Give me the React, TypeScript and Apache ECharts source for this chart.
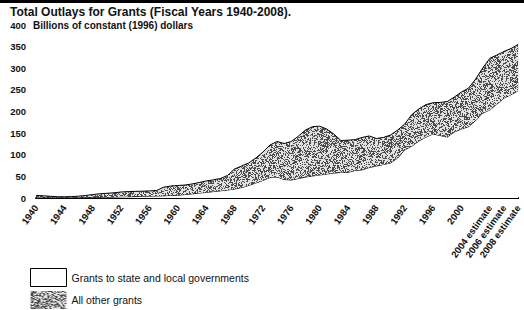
import React, { useEffect, useRef } from 'react';
import * as echarts from 'echarts';

const years = [
  '1940', '1941', '1942', '1943', '1944', '1945', '1946', '1947', '1948', '1949',
  '1950', '1951', '1952', '1953', '1954', '1955', '1956', '1957', '1958', '1959',
  '1960', '1961', '1962', '1963', '1964', '1965', '1966', '1967', '1968', '1969',
  '1970', '1971', '1972', '1973', '1974', '1975', '1976', '1977', '1978', '1979',
  '1980', '1981', '1982', '1983', '1984', '1985', '1986', '1987', '1988', '1989',
  '1990', '1991', '1992', '1993', '1994', '1995', '1996', '1997', '1998', '1999',
  '2000', '2001', '2002', '2003', '2004', '2005', '2006', '2007', '2008',
];

// Billions of constant (1996) dollars
const stateLocalGrants = [
  1, 1, 1, 1, 1, 1, 1.2, 1.5, 1.5, 1.6,
  2, 2.2, 2.8, 3, 3.3, 3.8, 4.4, 4.8, 5.1, 5.8,
  6.5, 8, 9.7, 11.5, 13, 14.8, 16.6, 18.5, 20.8, 24.3,
  29, 34.7, 40.5, 47.4, 48.5, 42.8, 41.6, 45, 48.5, 51,
  53.2, 55.5, 57.8, 59, 59.4, 63.6, 65.2, 70.5, 74, 77.5,
  81, 92.5, 111, 120, 131.8, 141, 148, 144.5, 141, 152.6,
  159.5, 165, 179, 196, 203.5, 217, 231, 239, 248,
];

const allOtherGrants = [
  5, 4, 3, 2, 1.8, 2.2, 3, 4.3, 6.5, 8.1,
  8.9, 9.8, 11.1, 11.8, 12, 11.9, 12, 12.5, 19.9, 21.9,
  22.4, 22, 22.7, 24.3, 26.3, 27.2, 28.4, 33.5, 46.2, 49.7,
  52, 57.8, 65.5, 75.1, 82.1, 83.2, 89, 98, 108.5, 114,
  112.8, 104, 90.2, 74, 74.2, 71.4, 74.8, 72.9, 63.6, 62.5,
  64.7, 64.5, 60, 73, 74.2, 75, 72.3, 76.5, 82, 80.9,
  85.5, 89, 96, 104.6, 119.5, 113.6, 107.7, 106.7, 107,
];

const xTickLabels = [
  '1940', '1944', '1948', '1952', '1956', '1960', '1964', '1968', '1972',
  '1976', '1980', '1984', '1988', '1992', '1996', '2000',
  '2004 estimate', '2006 estimate', '2008 estimate',
];

const seriesNames = ['Grants to state and local governments', 'All other grants'];
const titleText = 'Total Outlays for Grants (Fiscal Years 1940-2008).';
const unitText = 'Billions of constant (1996) dollars';

const FONT = '"Liberation Sans", Arial, Helvetica, sans-serif';

// deterministic integer hash used only for the stipple texture
function hash(x: number, y: number): number {
  let h = (Math.imul(x, 374761393) + Math.imul(y, 668265263)) | 0;
  h = Math.imul(h ^ (h >>> 13), 1274126177);
  h = h ^ (h >>> 16);
  return (h >>> 0) / 4294967296;
}

function makeStipple(): HTMLCanvasElement {
  const size = 64;
  const c = document.createElement('canvas');
  c.width = size;
  c.height = size;
  const ctx = c.getContext('2d')!;
  const img = ctx.createImageData(size, size);
  for (let y = 0; y < size; y++) {
    for (let x = 0; x < size; x++) {
      const h = hash(x + 7, y + 13);
      const v = h < 0.44 ? 75 : 225;
      const i = (y * size + x) * 4;
      img.data[i] = v;
      img.data[i + 1] = v;
      img.data[i + 2] = v;
      img.data[i + 3] = 255;
    }
  }
  ctx.putImageData(img, 0, 0);
  return c;
}

export default function App() {
  const ref = useRef<HTMLDivElement>(null);

  useEffect(() => {
    if (!ref.current) return;
    const chart = echarts.init(ref.current, undefined, { renderer: 'svg' });
    const stipple = { image: makeStipple(), repeat: 'repeat' as const };

    const findLabel = (v: string) => xTickLabels.find((l) => l.split(' ')[0] === v);

    chart.setOption({
      animation: false,
      backgroundColor: '#ffffff',
      grid: { left: 36, top: 25, width: 489.6, height: 173 },
      xAxis: {
        type: 'category',
        data: years,
        boundaryGap: false,
        axisLine: { lineStyle: { color: '#000', width: 2 } },
        axisTick: { show: false },
        splitLine: { show: false },
        axisLabel: {
          interval: (_i: number, v: string) => !!findLabel(v),
          formatter: (v: string) => findLabel(v) || '',
          rotate: 54,
          margin: 8,
          fontFamily: FONT,
          fontWeight: 'bold',
          fontSize: 9.5,
          color: '#111',
        },
      },
      yAxis: {
        type: 'value',
        min: 0,
        max: 400,
        interval: 50,
        axisLine: { show: false },
        axisTick: { show: false },
        splitLine: { show: false },
        axisLabel: {
          margin: 10,
          fontFamily: FONT,
          fontWeight: 'bold',
          fontSize: 9.5,
          color: '#111',
        },
      },
      legend: {
        orient: 'vertical',
        left: 30,
        top: 268,
        padding: 0,
        itemWidth: 36,
        itemHeight: 18,
        itemGap: 4,
        icon: 'rect',
        selectedMode: false,
        textStyle: { fontFamily: FONT, fontSize: 10.5, color: '#111' },
        data: [
          { name: seriesNames[0], itemStyle: { color: '#fff', borderColor: '#000', borderWidth: 1 } },
          { name: seriesNames[1], itemStyle: { color: stipple, borderColor: '#666', borderWidth: 0 } },
        ],
      },
      graphic: [
        { type: 'rect', left: 0, top: 0, shape: { width: 524, height: 3 }, style: { fill: '#000' } },
        {
          type: 'text',
          left: 10,
          top: 6,
          style: { text: titleText, font: `bold 12px ${FONT}`, fill: '#111' },
        },
        {
          type: 'text',
          left: 33,
          top: 20,
          style: { text: unitText, font: `bold 10px ${FONT}`, fill: '#111' },
        },
      ],
      series: [
        {
          name: seriesNames[0],
          type: 'line',
          stack: 'total',
          data: stateLocalGrants,
          symbol: 'none',
          silent: true,
          lineStyle: { color: '#000', width: 1 },
          itemStyle: { color: '#fff' },
          areaStyle: { color: '#fff', opacity: 1 },
          z: 2,
        },
        {
          name: seriesNames[1],
          type: 'line',
          stack: 'total',
          data: allOtherGrants,
          symbol: 'none',
          silent: true,
          lineStyle: { color: '#000', width: 1 },
          itemStyle: { color: '#888' },
          areaStyle: { color: stipple, opacity: 1 },
          z: 3,
        },
      ],
    });

    return () => chart.dispose();
  }, []);

  return (
    <div
      ref={ref}
      style={{ position: 'fixed', left: 0, top: 0, width: 524, height: 310, background: '#fff' }}
    />
  );
}
